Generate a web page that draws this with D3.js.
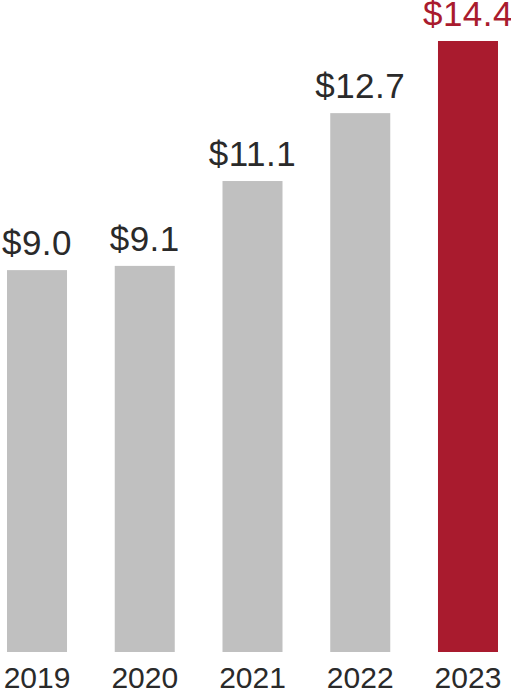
<!DOCTYPE html>
<html><head><meta charset="utf-8">
<script src="https://cdn.jsdelivr.net/npm/d3@7"></script>
<style>html,body{margin:0;padding:0;background:#fff;}svg{display:block;}</style>
</head><body>
<svg id="chart" width="511" height="690"></svg>
<script>
const years = ["2019","2020","2021","2022","2023"];
const values = [9.0, 9.1, 11.1, 12.7, 14.4];
const valueLabels = ["$9.0","$9.1","$11.1","$12.7","$14.4"];
const highlight = "2023";

const svg = d3.select("#chart");
const x = d3.scaleBand().domain(years).range([7, 498]).paddingInner(0.443).paddingOuter(0);
const y = d3.scaleLinear().domain([0, 14.4]).range([652, 41]);

const data = years.map((yr,i)=>({yr, v: values[i], lab: valueLabels[i]}));

svg.selectAll("rect.bar").data(data).enter().append("rect")
  .attr("class","bar")
  .attr("x", d=>x(d.yr))
  .attr("width", x.bandwidth())
  .attr("y", d=>y(d.v))
  .attr("height", d=>y(0)-y(d.v))
  .attr("fill", d=>d.yr===highlight ? "#a91b2e" : "#c0c0c0");

svg.selectAll("text.val").data(data).enter().append("text")
  .attr("class","val")
  .attr("x", d=>x(d.yr)+x.bandwidth()/2)
  .attr("y", d=>y(d.v)-15)
  .attr("text-anchor","middle")
  .attr("font-family","Liberation Sans, Arial, sans-serif")
  .attr("font-size", 35)
  .attr("letter-spacing", 0.5)
  .attr("fill", d=>d.yr===highlight ? "#a91b2e" : "#2a2a2a")
  .text(d=>d.lab);

const axis = d3.axisBottom(x).tickSize(0).tickPadding(0);
const g = svg.append("g").attr("transform","translate(0,688)").call(axis);
g.select(".domain").remove();
g.selectAll("text")
  .attr("y", 0).attr("dy", 0)
  .attr("font-family","Liberation Sans, Arial, sans-serif")
  .attr("font-size", 30)
  .attr("fill","#2a2a2a");
</script>
</body></html>
